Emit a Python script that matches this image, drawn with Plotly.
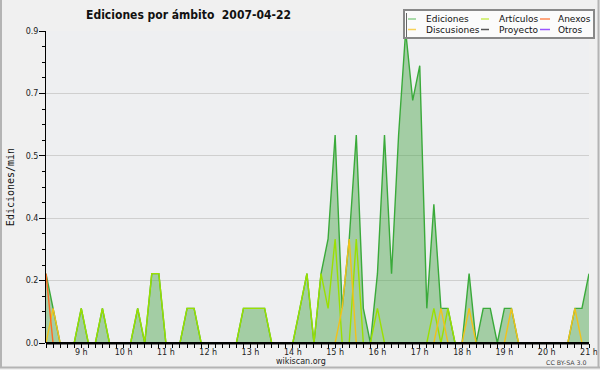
import plotly.graph_objects as go
from datetime import datetime, timedelta

# ---------------- data ----------------
titulo = "Ediciones por ámbito\u00a0\u00a02007-04-22"
inicio = datetime(2007, 4, 22, 8, 10)
paso_min = 10

ediciones = [
    0.2, 0.1, 0, 0, 0, 0.1, 0, 0, 0.1, 0,
    0, 0, 0, 0.1, 0, 0.2, 0.2, 0, 0, 0,
    0.1, 0.1, 0, 0, 0, 0, 0, 0, 0.1, 0.1,
    0.1, 0.1, 0, 0, 0, 0, 0.1, 0.2, 0, 0.2,
    0.3, 0.6, 0.1, 0.3, 0.6, 0.1, 0, 0.2, 0.6, 0.2,
    0.6, 0.9, 0.7, 0.8, 0.1, 0.4, 0.1, 0.1, 0, 0,
    0.2, 0, 0.1, 0.1, 0, 0.1, 0.1, 0, 0, 0,
    0, 0, 0, 0, 0, 0.1, 0.1, 0.2,
]
articulos = [
    0, 0, 0, 0, 0, 0.1, 0, 0, 0.1, 0,
    0, 0, 0, 0.1, 0, 0.2, 0.2, 0, 0, 0,
    0.1, 0.1, 0, 0, 0, 0, 0, 0, 0.1, 0.1,
    0.1, 0.1, 0, 0, 0, 0, 0.1, 0.2, 0, 0.2,
    0.1, 0.3, 0, 0, 0.3, 0, 0, 0.1, 0, 0,
    0, 0, 0, 0, 0, 0.1, 0, 0.1, 0, 0,
    0, 0, 0, 0, 0, 0, 0, 0, 0, 0,
    0, 0, 0, 0, 0, 0, 0, 0,
]
discusiones = [
    0, 0.1, 0, 0, 0, 0, 0, 0, 0, 0,
    0, 0, 0, 0, 0, 0, 0, 0, 0, 0,
    0, 0, 0, 0, 0, 0, 0, 0, 0, 0,
    0, 0, 0, 0, 0, 0, 0, 0, 0, 0,
    0, 0, 0.1, 0.3, 0, 0, 0, 0, 0, 0,
    0, 0, 0, 0, 0, 0, 0.1, 0, 0, 0,
    0.1, 0, 0, 0, 0, 0, 0.1, 0, 0, 0,
    0, 0, 0, 0, 0, 0.1, 0, 0,
]
anexos = [0.2] + [0] * 77
proyecto = [0] * 78
otros = [0] * 78

horas = [inicio + timedelta(minutes=paso_min * k) for k in range(len(ediciones))]

tick_horas = list(range(9, 22))
tick_vals_x = [datetime(2007, 4, 22, h) for h in tick_horas]
tick_text_x = [f"{h} h" for h in tick_horas]

tick_vals_y = [0, 0.18, 0.36, 0.54, 0.72, 0.9]
tick_text_y = ["0.0", "0.2", "0.4", "0.5", "0.7", "0.9"]

series = [
    ("Proyecto", proyecto, "#555555", "#555555"),
    ("Otros", otros, "#9944ff", "#9955ff"),
    ("Ediciones", ediciones, "#3aaa3a", "#8fd08f"),
    ("Artículos", articulos, "#9be000", "#c8ec5a"),
    ("Discusiones", discusiones, "#f2c21a", "#f7d25a"),
    ("Anexos", anexos, "#ff6a22", "#ff8a55"),
]
legend_order = ["Ediciones", "Artículos", "Anexos", "Discusiones", "Proyecto", "Otros"]

# ---------------- figure ----------------
W, H = 600, 370
ML, MR, MT, MB = 46, 11, 31, 27
PW, PH = W - ML - MR, H - MT - MB


def px_x(p):
    return (p - ML) / PW


def px_y(p):
    return (H - MB - p) / PH


fig = go.Figure()
for name, vals, col, _ in series:
    kw = {}
    if name == "Ediciones":
        kw = dict(fill="tozeroy", fillcolor="rgba(70,165,70,0.45)")
    fig.add_trace(go.Scatter(
        x=horas, y=vals, name=name, mode="lines",
        line=dict(color=col, width=1.4), showlegend=False,
        hoverinfo="x+y+name", **kw))

FONT = "DejaVu Sans"
shapes = []
annotations = []

# x axis baseline drawn above the traces
shapes.append(dict(type="line", xref="paper", yref="paper", layer="above",
                   x0=0, x1=1, y0=px_y(343.2), y1=px_y(343.2),
                   line=dict(color="#000000", width=2.5)))

# legend box
shapes.append(dict(type="rect", xref="paper", yref="paper",
                   x0=px_x(404), x1=px_x(594), y0=px_y(38), y1=px_y(10),
                   fillcolor="#fbfbfb", line=dict(color="#888888", width=2)))
shapes.append(dict(type="line", xref="paper", yref="paper",
                   x0=px_x(406.5), x1=px_x(406.5), y0=px_y(37), y1=px_y(13),
                   line=dict(color="#666666", width=1)))
col_x = [(408, 416, 424), (481, 489, 497), (540, 550, 556)]
row_y = [19, 29.5]
legend_colors = {n: lc for n, _, _, lc in series}
for k, name in enumerate(legend_order):
    r, c = divmod(k, 3)
    x0, x1, xt = col_x[c]
    y = row_y[r]
    shapes.append(dict(type="line", xref="paper", yref="paper",
                       x0=px_x(x0), x1=px_x(x1), y0=px_y(y), y1=px_y(y),
                       line=dict(color=legend_colors[name], width=1.5)))
    annotations.append(dict(text=name, xref="paper", yref="paper",
                            x=px_x(xt), y=px_y(y), xanchor="left", yanchor="middle",
                            showarrow=False, font=dict(family=FONT, size=9, color="#111111")))

# footer texts
annotations.append(dict(text="wikiscan.org", xref="paper", yref="paper",
                        x=px_x(300.5), y=px_y(361.5), xanchor="center", yanchor="middle",
                        showarrow=False, font=dict(family=FONT, size=8, color="#222222")))
annotations.append(dict(text="CC BY-SA 3.0", xref="paper", yref="paper",
                        x=px_x(589), y=px_y(362.5), xanchor="right", yanchor="middle",
                        showarrow=False, font=dict(family=FONT, size=6.3, color="#444444")))

# outer frame (left, bottom, right)
frame = "#b4b4b4"
shapes.append(dict(type="line", xref="paper", yref="paper", x0=px_x(1), x1=px_x(1),
                   y0=px_y(0), y1=px_y(368), line=dict(color=frame, width=2)))
shapes.append(dict(type="line", xref="paper", yref="paper", x0=px_x(0), x1=px_x(600),
                   y0=px_y(367.5), y1=px_y(367.5), line=dict(color=frame, width=2)))
shapes.append(dict(type="line", xref="paper", yref="paper", x0=px_x(598.5), x1=px_x(598.5),
                   y0=px_y(0), y1=px_y(368), line=dict(color=frame, width=2)))

fig.update_layout(
    width=W, height=H,
    margin=dict(l=ML, r=MR, t=MT, b=MB, pad=0, autoexpand=False),
    paper_bgcolor="#f0f0f0", plot_bgcolor="#eeeff1",
    title=dict(text=titulo, x=188.5 / W, xanchor="center", xref="container",
               y=1 - 14.5 / H, yanchor="middle", yref="container",
               font=dict(family="DejaVu Sans Condensed, DejaVu Sans", size=12,
                         color="#111111", weight="bold")),
    showlegend=False,
    shapes=shapes, annotations=annotations,
    xaxis=dict(type="date", range=[horas[0], horas[-1]],
               tickmode="array", tickvals=tick_vals_x, ticktext=tick_text_x,
               ticks="outside", ticklen=4, tickwidth=1, tickcolor="#000000",
               showline=False,
               showgrid=False, zeroline=False,
               tickfont=dict(family=FONT, size=8, color="#222222"),
               ticklabelstandoff=-3,
               minor=dict(dtick=600000, ticks="outside", ticklen=4, tickcolor="#000000",
                          tickwidth=1, showgrid=False)),
    yaxis=dict(range=[0, 0.9], tickmode="array", tickvals=tick_vals_y, ticktext=tick_text_y,
               ticks="outside", ticklen=6, tickwidth=1, tickcolor="#000000",
               showline=True, linecolor="#000000", linewidth=1,
               showgrid=True, gridcolor="#cfcfcf", gridwidth=1, zeroline=False,
               tickfont=dict(family=FONT, size=8, color="#222222"),
               ticklabelstandoff=-1,
               title=dict(text="Ediciones/min", standoff=9,
                          font=dict(family="DejaVu Sans Mono", size=10, color="#111111")),
               minor=dict(tick0=0, dtick=0.045, ticks="outside", ticklen=3, tickcolor="#000000",
                          tickwidth=1, showgrid=False)),
)

fig.write_html("out.html")
